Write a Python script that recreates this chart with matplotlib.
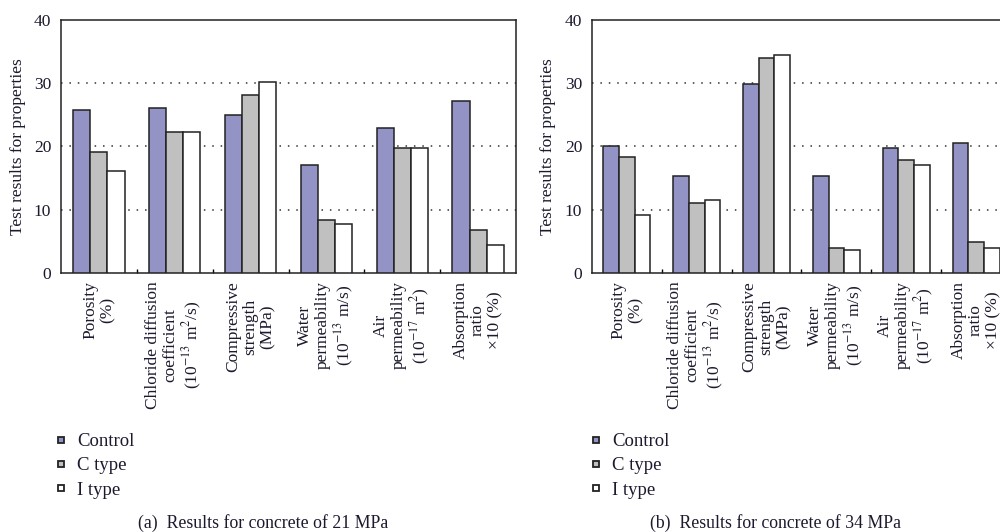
import numpy as np
import matplotlib
matplotlib.use("Agg")
import matplotlib.pyplot as plt
from matplotlib.lines import Line2D

plt.rcParams['font.family'] = ['Liberation Serif', 'DejaVu Serif']
plt.rcParams['mathtext.fontset'] = 'stix'

categories = [
    "Porosity\n(%)",
    "Chloride diffusion\ncoefficient\n(10$^{-13}$ m$^{2}$/s)",
    "Compressive\nstrength\n(MPa)",
    "Water\npermeability\n(10$^{-13}$ m/s)",
    "Air\npermeability\n(10$^{-17}$ m$^{2}$)",
    "Absorption\nratio\n\u00d710 (%)",
]
series = ["Control", "C type", "I type"]
colors = ["#9393c6", "#c0c0c0", "#ffffff"]

# 21 MPa
control_21 = [25.8, 26.0, 25.0, 17.0, 22.9, 27.2]
ctype_21 = [19.1, 22.2, 28.1, 8.4, 19.8, 6.8]
itype_21 = [16.1, 22.2, 30.2, 7.7, 19.8, 4.4]

# 34 MPa
control_34 = [20.1, 15.3, 29.8, 15.3, 19.8, 20.5]
ctype_34 = [18.4, 11.0, 34.0, 3.9, 17.9, 4.9]
itype_34 = [9.2, 11.5, 34.5, 3.7, 17.0, 3.9]

captions = ["(a)  Results for concrete of 21 MPa", "(b)  Results for concrete of 34 MPa"]

fig = plt.figure(figsize=(10, 5.32), dpi=100)
ax1 = fig.add_axes([0.061, 0.487, 0.455, 0.4756])
ax2 = fig.add_axes([0.592, 0.487, 0.419, 0.4756])

text_col = "#1a1a2e"
w = 0.225
x = np.arange(len(categories))

for ax, data in [(ax1, [control_21, ctype_21, itype_21]),
                 (ax2, [control_34, ctype_34, itype_34])]:
    for i, (vals, c) in enumerate(zip(data, colors)):
        ax.bar(x + (i - 1) * w, vals, w, color=c, edgecolor='#222222',
               linewidth=1.1, zorder=3)
    ax.set_xlim(-0.5, len(categories) - 0.5)
    ax.set_ylim(0, 40)
    ax.set_yticks([0, 10, 20, 30, 40])
    ax.tick_params(axis='y', length=0, pad=7, labelsize=12.5, labelcolor=text_col)
    ax.set_xticks(x)
    ax.set_xticklabels(categories, rotation=90, ha='center', va='top',
                       multialignment='center', fontsize=12.5, linespacing=1.12,
                       color=text_col)
    ax.tick_params(axis='x', length=0, pad=6)
    ax.set_xticks(np.arange(0.5, len(categories) - 0.5), minor=True)
    ax.tick_params(axis='x', which='minor', direction='in', length=3, width=1)
    for yv in [10, 20, 30]:
        ax.axhline(yv, color='#333333', lw=1.1, ls=(0, (1, 4.5)), zorder=1)
    for s in ax.spines.values():
        s.set_linewidth(1.1)
        s.set_color('#222222')
    ax.set_ylabel("Test results for properties", fontsize=12.5, color=text_col)

ax1.yaxis.set_label_coords(-0.078, 0.5)
ax2.yaxis.set_label_coords(-0.085, 0.5)

handles = [Line2D([], [], marker='s', ls='none', markersize=4.5, markerfacecolor=c,
                  markeredgecolor='#222222', markeredgewidth=1.3) for c in colors]
for lx, cx, cap in [(0.054, 0.263, captions[0]), (0.589, 0.775, captions[1])]:
    fig.legend(handles, series, loc='upper left', bbox_to_anchor=(lx, 1 - 433 / 532),
               frameon=False, fontsize=13.5, handlelength=0.7, handletextpad=0.55,
               labelspacing=0.38, borderpad=0, borderaxespad=0, labelcolor=text_col)
    fig.text(cx, 1 - 523 / 532, cap, ha='center', va='center', fontsize=12.8,
             color=text_col)

fig.savefig("out.png", dpi=100)
